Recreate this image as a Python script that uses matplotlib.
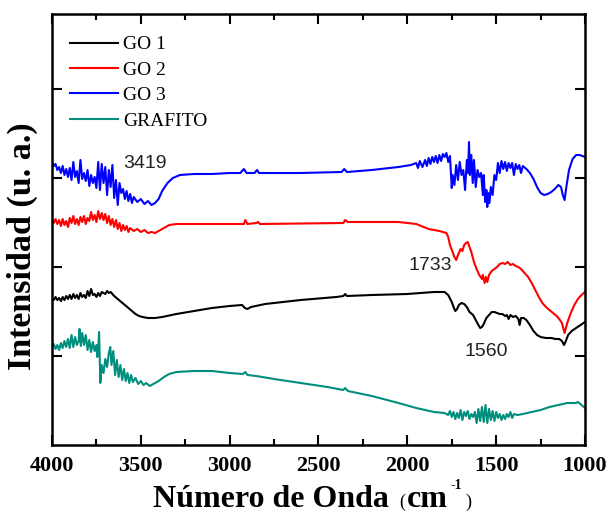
import matplotlib.pyplot as plt
from matplotlib.ticker import MultipleLocator

# GO 3 (blue)
go3_x = [4000, 3990, 3980, 3970, 3960, 3950, 3940, 3930, 3920, 3910, 3900, 3890, 3880, 3870, 3860, 3850,
         3840, 3830, 3820, 3810, 3800, 3790, 3780, 3770, 3760, 3750, 3740, 3730, 3720, 3710, 3700, 3690,
         3680, 3670, 3660, 3650, 3640, 3630, 3620, 3610, 3600, 3590, 3580, 3570, 3560, 3550, 3540, 3520,
         3500, 3480, 3460, 3440, 3420, 3400, 3380, 3350, 3320, 3280, 3200, 3100, 3000, 2940, 2920, 2905,
         2860, 2846, 2835, 2600, 2370, 2355, 2340, 2200, 2050, 1980, 1950, 1940, 1930, 1915, 1900, 1890,
         1880, 1870, 1860, 1850, 1840, 1830, 1820, 1810, 1800, 1790, 1780, 1770, 1760, 1750, 1745, 1735,
         1725, 1715, 1705, 1695, 1685, 1675, 1665, 1658, 1653, 1648, 1640, 1632, 1625, 1615, 1605, 1595,
         1585, 1575, 1570, 1562, 1555, 1550, 1545, 1538, 1530, 1520, 1510, 1500, 1490, 1480, 1470, 1460,
         1450, 1440, 1430, 1420, 1410, 1400, 1390, 1380, 1370, 1360, 1350, 1330, 1310, 1290, 1270, 1250,
         1230, 1210, 1190, 1170, 1150, 1135, 1125, 1115, 1105, 1090, 1070, 1050, 1030, 1000]
go3_y = [283, 279, 281, 275, 278, 272, 279, 270, 276, 268, 277, 265, 283, 268, 274, 262,
         285, 266, 272, 264, 275, 259, 270, 262, 268, 257, 283, 255, 281, 262, 278, 250,
         275, 258, 280, 247, 265, 240, 262, 252, 256, 246, 254, 244, 251, 242, 248, 243,
         246, 241, 244, 240, 242, 246, 254, 262, 267, 270, 271, 271, 272, 272, 276, 272,
         272, 275, 272, 272, 273, 276, 273, 275, 278, 280, 282, 277, 284, 278, 285, 279,
         287, 281, 288, 283, 289, 282, 290, 284, 291, 288, 292, 283, 289, 257, 270, 260,
         280, 265, 283, 270, 275, 255, 285, 272, 303, 270, 290, 262, 285, 258, 275, 268,
         272, 250, 270, 243, 255, 238, 252, 242, 258, 250, 270, 265, 282, 272, 284, 276,
         283, 274, 282, 277, 282, 270, 281, 276, 280, 272, 279, 276, 272, 266, 258, 252,
         250, 251, 253, 256, 260, 258, 250, 245, 258, 275, 286, 290, 290, 288]

# GO 2 (red)
go2_x = [4000, 3990, 3980, 3970, 3960, 3950, 3940, 3930, 3920, 3910, 3900, 3890, 3880, 3870, 3860, 3850,
         3840, 3830, 3820, 3810, 3800, 3790, 3780, 3770, 3760, 3750, 3740, 3730, 3720, 3710, 3700, 3690,
         3680, 3670, 3660, 3650, 3640, 3630, 3620, 3610, 3600, 3590, 3580, 3570, 3560, 3540, 3520, 3500,
         3480, 3460, 3440, 3420, 3400, 3370, 3340, 3300, 3200, 3000, 2920, 2912, 2900, 2850, 2840, 2830,
         2360, 2350, 2335, 2050, 1950, 1880, 1820, 1780, 1770, 1760, 1745, 1735, 1725, 1715, 1700, 1690,
         1680, 1670, 1660, 1650, 1640, 1625, 1610, 1595, 1580, 1575, 1565, 1558, 1550, 1540, 1525, 1510,
         1495, 1480, 1465, 1450, 1435, 1420, 1405, 1390, 1375, 1360, 1340, 1320, 1300, 1280, 1260, 1240,
         1220, 1200, 1180, 1160, 1145, 1130, 1115, 1100, 1080, 1060, 1040, 1020, 1000]
go2_y = [225, 222, 226, 221, 225, 219, 226, 220, 224, 218, 227, 222, 229, 221, 226, 220,
         228, 223, 229, 221, 227, 224, 233, 225, 230, 223, 234, 226, 232, 225, 231, 222,
         229, 220, 226, 218, 225, 216, 222, 214, 220, 215, 219, 213, 217, 214, 216, 213,
         215, 212, 213, 212, 214, 217, 220, 221, 221, 221, 221, 225, 221, 222, 223, 221,
         222, 225, 223, 223, 221, 216, 214, 212, 208, 200, 193, 188, 185, 190, 196, 194,
         200, 202, 203, 198, 193, 183, 176, 170, 166, 170, 162, 168, 163, 170, 174, 176,
         178, 181, 182, 181, 183, 180, 181, 179, 178, 176, 172, 168, 162, 155, 148, 142,
         138, 135, 132, 129, 126, 122, 112, 122, 132, 140, 146, 150, 153]

# GO 1 (black)
go1_x = [4000, 3990, 3980, 3970, 3960, 3950, 3940, 3930, 3920, 3910, 3900, 3890, 3880, 3870, 3860, 3850,
         3840, 3830, 3820, 3810, 3800, 3790, 3780, 3770, 3760, 3750, 3740, 3730, 3720, 3700, 3690, 3680,
         3670, 3650, 3630, 3610, 3590, 3570, 3550, 3530, 3510, 3490, 3460, 3420, 3380, 3300, 3200, 3100,
         3000, 2930, 2915, 2900, 2880, 2800, 2600, 2400, 2360, 2350, 2340, 2200, 2000, 1850, 1790, 1770,
         1750, 1740, 1730, 1720, 1710, 1695, 1680, 1665, 1650, 1630, 1615, 1600, 1590, 1580, 1570, 1555,
         1540, 1525, 1510, 1495, 1480, 1465, 1450, 1440, 1430, 1420, 1405, 1390, 1375, 1368, 1360, 1345,
         1330, 1310, 1290, 1270, 1250, 1220, 1190, 1165, 1145, 1130, 1118, 1110, 1095, 1075, 1050, 1025, 1000]
go1_y = [146, 145, 148, 145, 147, 144, 148, 145, 149, 146, 150, 146, 151, 147, 150, 146,
         152, 148, 150, 147, 154, 149, 156, 150, 151, 148, 152, 149, 153, 151, 154, 152,
         153, 149, 146, 143, 140, 137, 134, 131, 129, 128, 127, 127, 128, 131, 134, 137,
         139, 140, 137, 136, 138, 141, 145, 148, 149, 151, 149, 150, 151, 153, 153, 150,
         143, 138, 134, 136, 140, 142, 141, 138, 133, 130, 125, 120, 117, 118, 121, 127,
         130, 133, 133, 132, 131, 131, 129, 130, 126, 130, 128, 129, 126, 120, 127, 127,
         125, 120, 114, 110, 108, 107, 107, 106, 106, 104, 100, 103, 110, 114, 117, 120, 123]

# GRAFITO (teal)
graf_x = [4000, 3990, 3980, 3970, 3960, 3950, 3940, 3930, 3920, 3910, 3900, 3890, 3880, 3870, 3860, 3850,
          3845, 3838, 3830, 3820, 3810, 3800, 3790, 3780, 3770, 3760, 3750, 3745, 3740, 3735, 3728, 3720,
          3710, 3700, 3690, 3680, 3672, 3665, 3655, 3645, 3635, 3625, 3615, 3605, 3595, 3585, 3575, 3565,
          3555, 3545, 3530, 3515, 3500, 3485, 3470, 3450, 3430, 3400, 3370, 3340, 3300, 3200, 3100, 3000,
          2925, 2912, 2900, 2850, 2750, 2600, 2450, 2360, 2350, 2335, 2200, 2050, 1950, 1850, 1790, 1770,
          1760, 1750, 1740, 1730, 1720, 1710, 1700, 1690, 1680, 1670, 1660, 1650, 1640, 1630, 1620, 1610,
          1600, 1590, 1580, 1570, 1560, 1550, 1540, 1530, 1520, 1510, 1500, 1490, 1480, 1470, 1460, 1450,
          1440, 1430, 1420, 1410, 1400, 1380, 1350, 1300, 1250, 1200, 1150, 1100, 1050, 1040, 1020, 1000]
graf_y = [98, 101, 96, 100, 95, 102, 97, 104, 98, 106, 97, 110, 98, 108, 100, 104,
          116, 99, 112, 100, 110, 95, 105, 93, 103, 94, 100, 88, 96, 113, 62, 80,
          72, 86, 78, 92, 98, 80, 94, 70, 85, 68, 80, 65, 76, 64, 72, 62,
          70, 63, 67, 61, 64, 60, 62, 59, 61, 64, 68, 71, 73, 74, 74, 72,
          71, 73, 70, 69, 66, 62, 58, 55, 57, 54, 49, 42, 37, 33, 32, 30,
          34, 28, 33, 26, 32, 27, 35, 25, 33, 29, 34, 26, 31, 28, 33, 22,
          36, 24, 38, 23, 40, 22, 36, 25, 34, 24, 33, 27, 31, 25, 30, 26,
          31, 28, 33, 27, 31, 30, 31, 33, 35, 38, 40, 42, 42, 43, 40, 37]

peak_labels = ["3419", "1733", "1560"]
peak_pos = [(3477, 281), (1873, 179), (1557, 94)]

serif = "Liberation Serif"

fig = plt.figure(figsize=(6.15, 5.18), dpi=100)
ax = fig.add_axes([52 / 615, 1 - 445 / 518, 533 / 615, 431 / 518])

ax.plot(go1_x, go1_y, color="black", lw=1.5, label="GO 1")
ax.plot(go2_x, go2_y, color="#ff0000", lw=1.5, label="GO 2")
ax.plot(go3_x, go3_y, color="#0000ff", lw=1.5, label="GO 3")
ax.plot(graf_x, graf_y, color="#008f7d", lw=1.5, label="GRAFITO")

for txt, (px, py) in zip(peak_labels, peak_pos):
    ax.text(px, py, txt, ha="center", va="center", fontsize=14, family="Liberation Sans", color="#222222")

ax.set_xlim(4000, 1000)
ax.set_ylim(0, 431)
ax.xaxis.set_major_locator(MultipleLocator(500))
ax.xaxis.set_minor_locator(MultipleLocator(250))
ax.set_yticks([89, 178, 267, 356])
ax.set_yticklabels([])
ax.tick_params(which="both", direction="in", top=True, right=True, width=1.5)
ax.tick_params(which="major", length=7, pad=8)
ax.tick_params(which="minor", length=4)
for lab in ax.get_xticklabels():
    lab.set_fontfamily(serif)
    lab.set_fontweight("bold")
    lab.set_fontsize(16)
for sp in ax.spines.values():
    sp.set_linewidth(1.8)

leg = ax.legend(loc="upper left", frameon=False, prop={"family": serif, "size": 14},
                handlelength=2.5, handletextpad=0.25, labelspacing=0.4,
                bbox_to_anchor=(0.0, 0.99))

# x label, built from pieces like the original
base = 1 - 507 / 518
fig.text(153 / 615, base, "Número de Onda", ha="left", va="baseline",
         fontsize=23, fontweight="bold", family=serif)
fig.text(399 / 615, base, "(", ha="left", va="baseline", fontsize=13, family=serif)
fig.text(407 / 615, base, "cm", ha="left", va="baseline", fontsize=23, fontweight="bold", family=serif)
fig.text(451 / 615, 1 - 489 / 518, "-1", ha="left", va="baseline", fontsize=10, fontweight="bold", family=serif)
fig.text(465 / 615, base, ")", ha="left", va="baseline", fontsize=13, family=serif)

fig.text(22 / 615, 1 - 246 / 518, "Intensidad (u. a.)", ha="center", va="center", rotation=90,
         fontsize=24.5, fontweight="bold", family=serif)

fig.savefig("out.png", dpi=100)
